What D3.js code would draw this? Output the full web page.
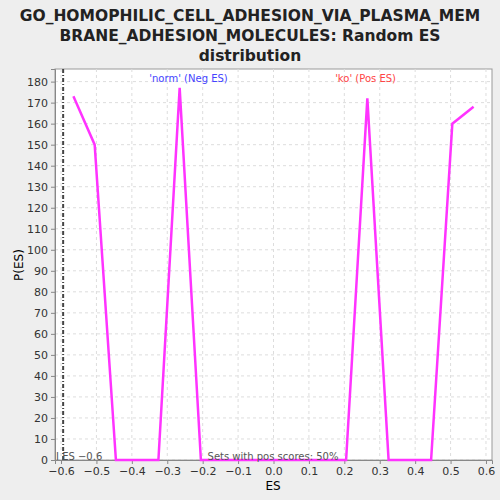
<!DOCTYPE html>
<html><head><meta charset="utf-8">
<script src="https://cdn.jsdelivr.net/npm/d3@7"></script>
<style>body{margin:0;background:#eeeeee;font-family:"DejaVu Sans",sans-serif;}</style>
</head><body><svg id="c" width="500" height="500"></svg>
<script>
var esValues = [-0.565, -0.505, -0.445, -0.325, -0.265, -0.205, 0.205, 0.265, 0.325, 0.445, 0.505, 0.565];
var pValues = [173, 150, 0, 0, 177, 0, 0, 172, 0, 0, 160, 168];
var xTicks = [-0.6, -0.5, -0.4, -0.3, -0.2, -0.1, 0.0, 0.1, 0.2, 0.3, 0.4, 0.5, 0.6];
var yTicks = d3.range(0, 181, 10);
var observedES = -0.594;

var svg = d3.select("#c");
var m = {l: 55, r: 492, t: 69, b: 460};
var x = d3.scaleLinear().domain([-0.617, 0.617]).range([m.l, m.r]);
var y = d3.scaleLinear().domain([0, 186]).range([m.b, m.t]);

svg.append("rect").attr("x", m.l).attr("y", m.t).attr("width", m.r - m.l).attr("height", m.b - m.t)
	.attr("fill", "#fff").attr("stroke", "#999");

// grid
svg.selectAll(".gx").data(xTicks).enter().append("line")
	.attr("x1", function(d) { return x(d); }).attr("x2", function(d) { return x(d); })
	.attr("y1", m.t).attr("y2", m.b).attr("stroke", "#ddd").attr("stroke-dasharray", "3,3");
svg.selectAll(".gy").data(yTicks).enter().append("line")
	.attr("y1", function(d) { return y(d); }).attr("y2", function(d) { return y(d); })
	.attr("x1", m.l).attr("x2", m.r).attr("stroke", "#ddd").attr("stroke-dasharray", "3,3");

var xa = svg.append("g").attr("transform", "translate(0," + m.b + ")")
	.call(d3.axisBottom(x).tickValues(xTicks).tickSize(4).tickFormat(d3.format(".1f")));
var ya = svg.append("g").attr("transform", "translate(" + m.l + ",0)")
	.call(d3.axisLeft(y).tickValues(yTicks).tickSize(4));
[xa, ya].forEach(function(a) {
	a.selectAll("text").attr("font-size", 11).attr("fill", "#333").attr("font-family", "DejaVu Sans");
	a.selectAll("line,path").attr("stroke", "#888");
});
xa.selectAll("text").text(function(d) { return d3.format(".1f")(d).replace("-", "\u2212"); });

// observed ES
svg.append("line").attr("x1", x(observedES)).attr("x2", x(observedES)).attr("y1", m.t).attr("y2", m.b)
	.attr("stroke", "#444").attr("stroke-width", 2).attr("stroke-dasharray", "4,2,1,2");

var line = d3.line().x(function(d, i) { return x(esValues[i]); }).y(function(d) { return y(d); });
svg.append("path").datum(pValues).attr("d", line).attr("fill", "none")
	.attr("stroke", "#ff33ff").attr("stroke-width", 2.5);

svg.append("text").attr("x", x(-0.24)).attr("y", 82).attr("text-anchor", "middle")
	.attr("font-size", 10).attr("fill", "#4444ff").text("'norm' (Neg ES)");
svg.append("text").attr("x", x(0.26)).attr("y", 82).attr("text-anchor", "middle")
	.attr("font-size", 10).attr("fill", "#ff4444").text("'ko' (Pos ES)");
svg.append("text").attr("x", 56).attr("y", 460).attr("font-size", 10).attr("fill", "#555").text("I ES \u22120.6");
svg.append("text").attr("x", 273).attr("y", 460).attr("text-anchor", "middle")
	.attr("font-size", 10).attr("fill", "#555").text("Sets with pos scores: 50%");

svg.append("text").attr("x", 273).attr("y", 490).attr("text-anchor", "middle").attr("font-size", 12).text("ES");
svg.append("text").attr("transform", "translate(23,265) rotate(-90)").attr("text-anchor", "middle")
	.attr("font-size", 12).text("P(ES)");

var title = ["GO_HOMOPHILIC_CELL_ADHESION_VIA_PLASMA_MEM", "BRANE_ADHESION_MOLECULES: Random ES", "distribution"];
svg.selectAll(".t").data(title).enter().append("text")
	.attr("x", 250).attr("y", function(d, i) { return 21 + i * 20; }).attr("text-anchor", "middle")
	.attr("font-size", 15.5).attr("font-weight", "bold").attr("fill", "#222").text(function(d) { return d; });
</script></body></html>
